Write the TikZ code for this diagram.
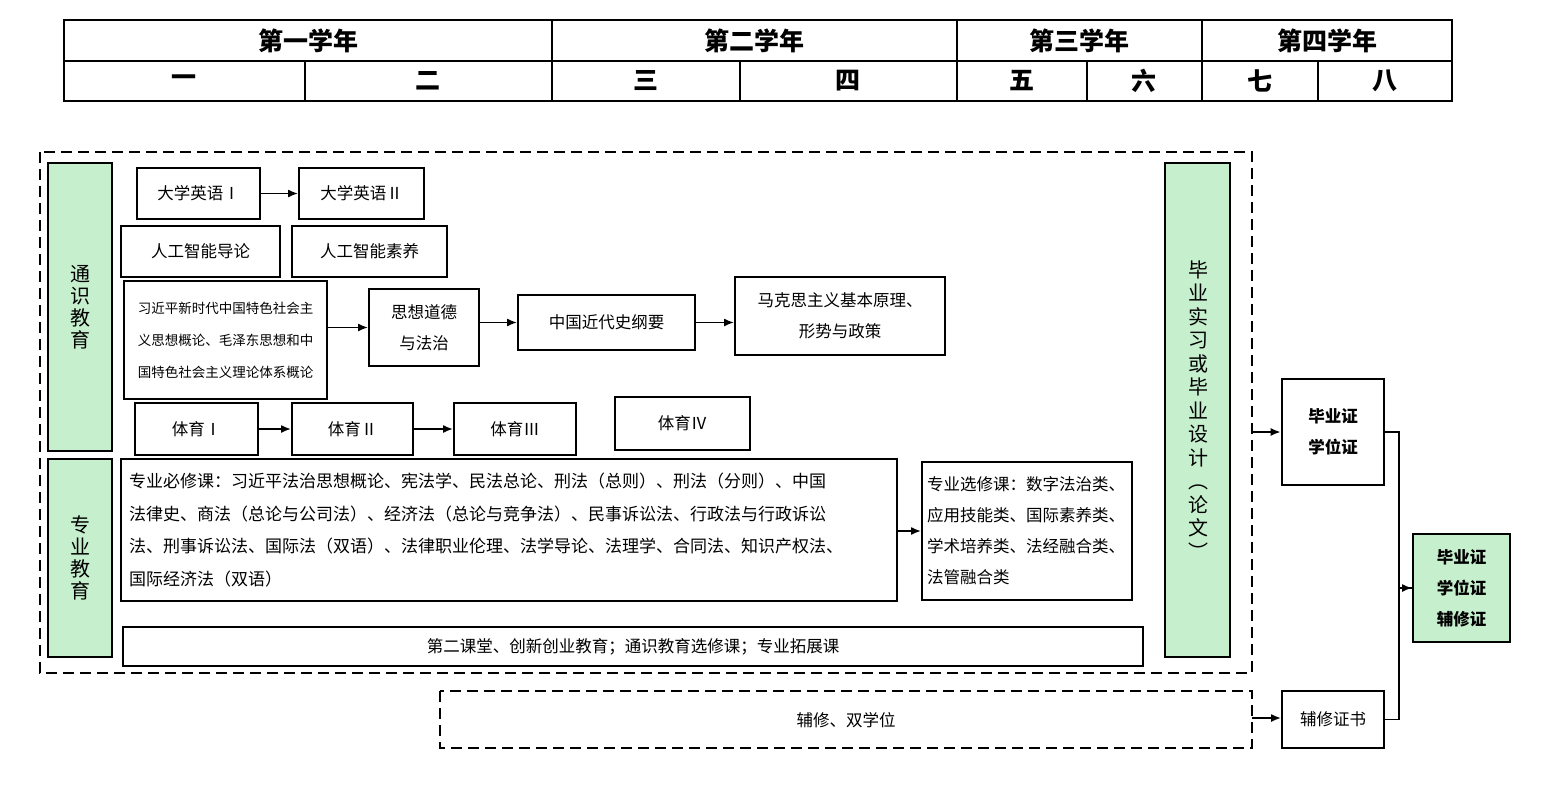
\documentclass[tikz,border=0pt]{standalone}
\usepackage{fontspec}
\setmainfont{Noto Sans CJK SC}
\usetikzlibrary{positioning,arrows.meta}
\definecolor{mygreen}{HTML}{C6EFCE}
\begin{document}
\begin{tikzpicture}[x=1pt, y=-1pt,
    % 盒子样式
    box/.style={draw=black, line width=1.8pt, font=\fontsize{16.5}{24}\selectfont},
    gbox/.style={box, fill=mygreen},
    vtext/.style={font=\fontsize{20}{22}\selectfont, align=center},
    dbox/.style={draw=black, line width=2.4pt, dash pattern=on 11pt off 6pt},
    hdr/.style={font=\bfseries\fontsize{25}{26}\selectfont},
    myarrow/.style={line width=1.8pt, -{Latex[length=10pt,width=8pt]}}
]
    \useasboundingbox (0,0) rectangle (1552,792);
    % 表头
    \draw [line width=1.8pt] (64,20) rectangle (1452,101);
    \draw [line width=1.8pt] (64,61) -- (1452,61);
    \foreach \x in {552,957,1202} \draw [line width=1.8pt] (\x,20) -- (\x,101);
    \foreach \x in {305,740,1087,1318} \draw [line width=1.8pt] (\x,61) -- (\x,101);
    \node [hdr] at (308,41) {第一学年};
    \node [hdr] at (754,41) {第二学年};
    \node [hdr] at (1079,41) {第三学年};
    \node [hdr] at (1327,41) {第四学年};
    \foreach \x/\t in {184/一,428/二,646/三,848/四,1022/五,1144/六,1260/七,1385/八}
        \node [hdr] at (\x,81) {\t};

    % 外框
    \draw [dbox] (40,152) rectangle (1252,673);
    \draw [dbox] (440,691) rectangle (1252,748);
    \node [font=\fontsize{16.5}{20}\selectfont] (fx) at (846,720) {辅修、双学位};
    \coordinate (outR) at (1252,432);
    \coordinate (fxR) at (1252,718);

    % 绿色竖框
    \draw [gbox] (48,163) rectangle (112,451);
    \node [vtext] at (80,307) {通\\识\\教\\育};
    \draw [gbox] (48,459) rectangle (112,657);
    \node [vtext] at (80,558) {专\\业\\教\\育};
    \draw [gbox] (1165,163) rectangle (1230,657);
    \node [vtext, font=\fontsize{20}{23.5}\selectfont] at (1198,410)
        {毕\\业\\实\\习\\或\\毕\\业\\设\\计\\︵\\论\\文\\︶};

    % 通识课程
    \node [box, minimum width=123, minimum height=51] (en1) at (198.5,193.5) {大学英语Ⅰ};
    \node [box, minimum width=125, minimum height=51] (en2) at (361.5,193.5) {大学英语Ⅱ};
    \node [box, minimum width=159, minimum height=51] (ai1) at (200.5,251.5) {人工智能导论};
    \node [box, minimum width=155, minimum height=51] (ai2) at (369.5,251.5) {人工智能素养};
    \node [box, minimum width=203, minimum height=118, align=center,
        font=\fontsize{13.5}{32}\selectfont] (xjp) at (225.5,340)
        {习近平新时代中国特色社会主\\义思想概论、毛泽东思想和中\\国特色社会主义理论体系概论};
    \node [box, minimum width=110, minimum height=77, align=center,
        font=\fontsize{16.5}{31}\selectfont] (sx) at (424,327.5) {思想道德\\与法治};
    \node [box, minimum width=177, minimum height=55] (zg) at (606.5,322.5) {中国近代史纲要};
    \node [box, minimum width=210, minimum height=78, align=center,
        font=\fontsize{16.5}{31}\selectfont] (mk) at (840,316) {马克思主义基本原理、\\形势与政策};
    \node [box, minimum width=123, minimum height=52] (ty1) at (196.5,429) {体育Ⅰ};
    \node [box, minimum width=121, minimum height=52] (ty2) at (352.5,429) {体育Ⅱ};
    \node [box, minimum width=122, minimum height=52] (ty3) at (515,429) {体育Ⅲ};
    \node [box, minimum width=135, minimum height=53] (ty4) at (682.5,423.5) {体育Ⅳ};

    % 专业课程
    \node [box, minimum width=776, minimum height=142, align=left, text width=760,
        font=\fontsize{17}{32.5}\selectfont] (bx) at (509,530)
        {专业必修课：习近平法治思想概论、宪法学、民法总论、刑法（总则）、刑法（分则）、中国\\
         法律史、商法（总论与公司法）、经济法（总论与竞争法）、民事诉讼法、行政法与行政诉讼\\
         法、刑事诉讼法、国际法（双语）、法律职业伦理、法学导论、法理学、合同法、知识产权法、\\
         国际经济法（双语）};
    \node [box, minimum width=210, minimum height=138, align=left, text width=200,
        font=\fontsize{16.5}{31}\selectfont] (xx) at (1027,531)
        {专业选修课：数字法治类、\\应用技能类、国际素养类、\\学术培养类、法经融合类、\\法管融合类};
    \node [box, minimum width=1020, minimum height=39] (dk) at (633,646.5)
        {第二课堂、创新创业教育；通识教育选修课；专业拓展课};

    % 证书
    \node [box, line width=2.6pt, minimum width=102, minimum height=106, align=center,
        font=\bfseries\fontsize{16.5}{31}\selectfont] (bz) at (1333,432) {毕业证\\学位证};
    \node [box, minimum width=102, minimum height=57] (fz) at (1333,719.5) {辅修证书};
    \node [gbox, minimum width=97, minimum height=108, align=center,
        font=\bfseries\fontsize{16.5}{31}\selectfont] (all) at (1461.5,588) {毕业证\\学位证\\辅修证};

    % 箭头
    \draw [myarrow] (en1) -- (en2);
    \draw [myarrow] (xjp.east |- sx) -- (sx);
    \draw [myarrow] (sx.east |- zg) -- (zg);
    \draw [myarrow] (zg.east |- zg) -- (mk.west |- zg);
    \draw [myarrow] (ty1) -- (ty2);
    \draw [myarrow] (ty2) -- (ty3);
    \draw [myarrow] (bx.east |- xx) -- (xx);
    \draw [myarrow] (outR) -- (bz.west |- outR);
    \draw [myarrow] (fxR) -- (fz.west |- fxR);
    \draw [line width=1.8pt] (bz.east) -- ++(14,0) |- (all.west);
    \draw [line width=1.8pt] (fz.east) -- ++(14,0) |- (all.west);
    \draw [myarrow] (1398,588) -- (all.west);
\end{tikzpicture}
\end{document}
